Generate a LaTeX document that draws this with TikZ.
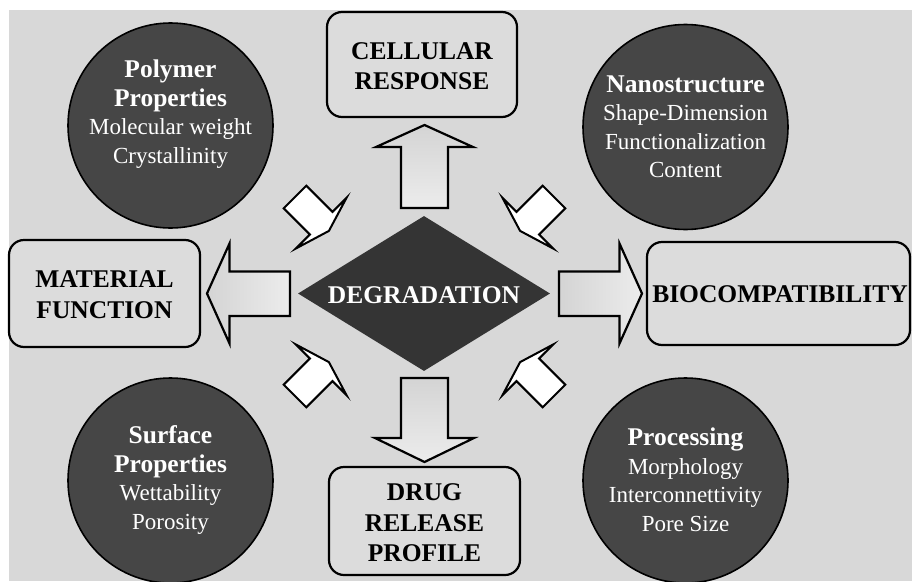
\documentclass[tikz,border=0pt]{standalone}
\usepackage{fontspec}
\setmainfont{Liberation Serif}
\usetikzlibrary{shapes.geometric}
\definecolor{bggray}{RGB}{216,216,216}
\definecolor{boxgray}{RGB}{220,220,220}
\definecolor{circgray}{RGB}{70,70,70}
\definecolor{diagray}{RGB}{52,52,52}
\definecolor{arrA}{RGB}{212,212,212}
\definecolor{arrB}{RGB}{236,236,236}
\tikzset{
  bubble/.style={circle, draw=black, line width=1.6pt, fill=circgray, minimum size=205pt, inner sep=0pt},
  bubtext/.style={text=white, align=center, font=\fontsize{23}{28.5}\selectfont, inner sep=0pt},
  boxnode/.style={draw=black, line width=2.2pt, rounded corners=15pt, fill=boxgray, inner sep=0pt},
  boxtext/.style={text=black, align=center, font=\fontsize{25.5}{30.5}\selectfont\bfseries, inner sep=0pt},
  bigarrow/.style={draw=black, line width=2.2pt, line join=miter, left color=arrA, right color=arrB},
  bigarrowv/.style={draw=black, line width=2.2pt, line join=miter, top color=arrA, bottom color=arrB},
  smallarrow/.style={draw=black, line width=2pt, fill=white, line join=miter, miter limit=25},
}
\newcommand{\bt}[1]{{\fontsize{25.5}{28.5}\selectfont\bfseries #1}}
\begin{document}
\begin{tikzpicture}[x=1pt,y=-1pt]
\useasboundingbox (0,0) rectangle (912,581);
\clip (0,0) rectangle (912,581);
\fill[white] (0,0) rectangle (912,581);
\fill[bggray] (9,10) rectangle (912,581);

% circles
\node[bubble] (poly) at (170.5,125.5) {};
\node[bubtext] (polyt) at (170.5,114) {\bt{Polymer}\\\bt{Properties}\\Molecular weight\\Crystallinity};
\node[bubble] (nano) at (685.5,127) {};
\node[bubtext] (nanot) at (685.5,127) {\bt{Nanostructure}\\Shape-Dimension\\Functionalization\\Content};
\node[bubble] (surf) at (170.5,480.5) {};
\node[bubtext] (surft) at (170.5,480) {\bt{Surface}\\\bt{Properties}\\Wettability\\Porosity};
\node[bubble] (proc) at (685.5,480.5) {};
\node[bubtext] (proct) at (685.5,480) {\bt{Processing}\\Morphology\\Interconnettivity\\Pore Size};

% boxes
\node[boxnode, minimum width=190pt, minimum height=105pt] (cell) at (422,64.5) {};
\node[boxtext] (cellt) at (422,66) {CELLULAR\\RESPONSE};
\node[boxnode, minimum width=191pt, minimum height=107pt] (mat) at (104.5,293.5) {};
\node[boxtext] (matt) at (104.5,294.5) {MATERIAL\\FUNCTION};
\node[boxnode, minimum width=263pt, minimum height=103pt] (bio) at (778.5,293.5) {};
\node[boxtext] (biot) at (780,294.5) {BIOCOMPATIBILITY};
\node[boxnode, minimum width=191pt, minimum height=108pt] (drug) at (424.5,521) {};
\node[boxtext] (drugt) at (424.5,523) {DRUG\\RELEASE\\PROFILE};

% diamond
\node[diamond, fill=diagray, minimum width=252pt, minimum height=155pt, inner sep=0pt] (deg) at (424,293.5) {};
\node[boxtext, text=white] (degt) at (424,295.5) {DEGRADATION};

% big block arrows
\shadedraw[bigarrowv] (401,208) -- (401,147) -- (376,147) -- (424.5,125) -- (473,147) -- (448,147) -- (448,208) -- cycle;
\shadedraw[bigarrowv] (401,378) -- (401,438) -- (375,438) -- (424.5,462) -- (474,438) -- (448,438) -- (448,378) -- cycle;
\shadedraw[bigarrow] (290,271.5) -- (229.5,271.5) -- (229.5,243.5) -- (207,293.5) -- (229.5,343.5) -- (229.5,316) -- (290,316) -- cycle;
\shadedraw[bigarrow] (559,271.5) -- (619.5,271.5) -- (619.5,243.5) -- (642,293.5) -- (619.5,343.5) -- (619.5,316) -- (559,316) -- cycle;

% small arrows
\draw[smallarrow] (306.3,185.7) -- (332.5,211.9) -- (346.6,197.7) -- (328.9,230.9) -- (295.7,248.6) -- (309.9,234.5) -- (283.7,208.3) -- cycle;
\draw[smallarrow] (542.7,185.7) -- (516.5,211.9) -- (502.4,197.7) -- (520.1,230.9) -- (553.3,248.6) -- (539.1,234.5) -- (565.3,208.3) -- cycle;
\draw[smallarrow] (306.3,407.3) -- (332.5,381.1) -- (346.6,395.3) -- (328.9,362.1) -- (295.7,344.4) -- (309.9,358.5) -- (283.7,384.7) -- cycle;
\draw[smallarrow] (542.7,407.3) -- (516.5,381.1) -- (502.4,395.3) -- (520.1,362.1) -- (553.3,344.4) -- (539.1,358.5) -- (565.3,384.7) -- cycle;
\end{tikzpicture}
\end{document}
